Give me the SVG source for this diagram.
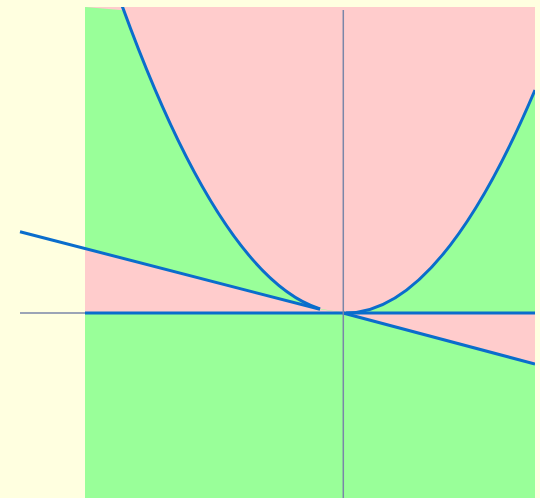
<svg xmlns="http://www.w3.org/2000/svg" width="540" height="498" viewBox="0 0 540 498">
  <defs>
    <clipPath id="plotClip">
      <rect x="85" y="7" width="450" height="491"/>
    </clipPath>
    <style>
      .pink { fill: #ffcccc; stroke: none; }
      .green { fill: #99ff99; stroke: none; }
      .axis { stroke: #7a86a8; stroke-width: 1.5; fill: none; }
      .curve { stroke: #0a6dcc; stroke-width: 3; fill: none; stroke-linecap: butt; }
    </style>
  </defs>
  <rect x="0" y="0" width="540" height="498" fill="#ffffe0"/>
  <g id="regions" clip-path="url(#plotClip)">
    <rect class="green" x="85" y="7" width="450" height="491"/>
    <polygon class="pink" points="85,7 126,7 123,10.3"/>
    <path class="pink" d="M120,0 Q220,277.1 320,308.86 L346,313 Q440.5,313 535,90 L535,0 Z"/>
    <polygon class="pink" points="85,248.5 320,309.2 346,313 85,313"/>
    <polygon class="pink" points="343,313 535,313 535,364"/>
  </g>
  <g id="x-axis">
    <line class="axis" x1="20" y1="313" x2="535" y2="313"/>
  </g>
  <g id="connectors" clip-path="url(#plotClip)">
    <path class="curve" d="M120,0 Q220,277.1 320,308.86"/>
    <path class="curve" d="M346,313 Q440.5,313 535,90"/>
    <line class="curve" x1="85" y1="313" x2="535" y2="313"/>
    <line class="curve" x1="343" y1="313" x2="535" y2="364"/>
  </g>
  <g id="tangent-line">
    <line class="curve" x1="20" y1="231.7" x2="320" y2="309.3"/>
  </g>
  <g id="y-axis">
    <line class="axis" x1="343.3" y1="10" x2="343.3" y2="498"/>
  </g>
</svg>
